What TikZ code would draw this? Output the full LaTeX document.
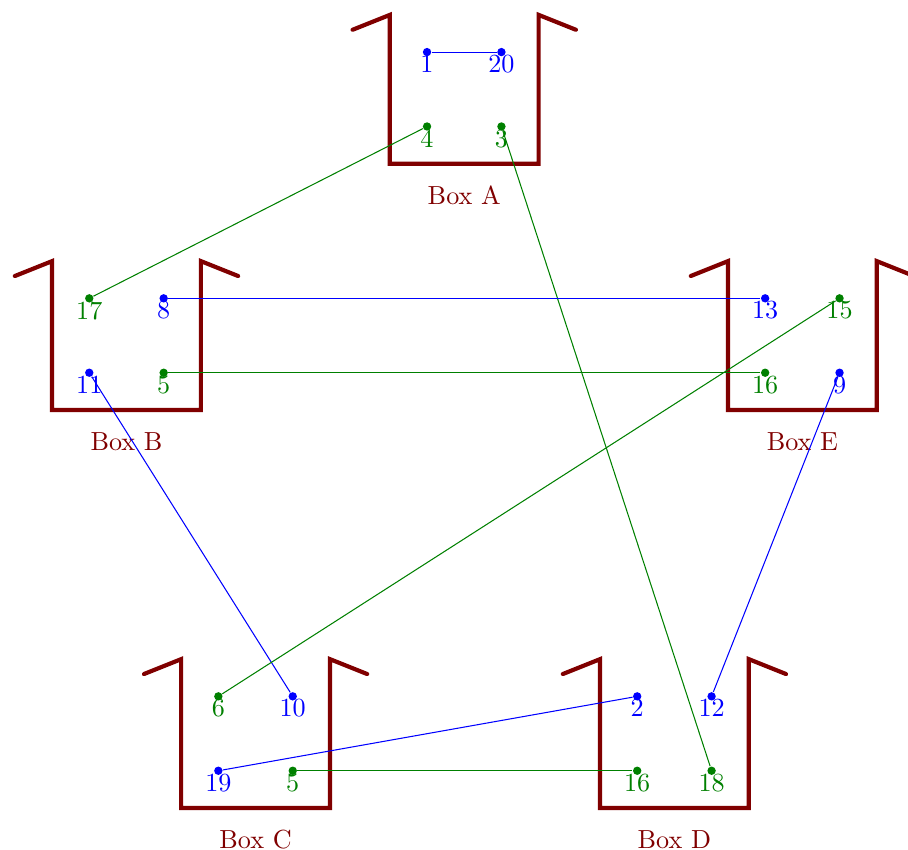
\documentclass[tikz,border=0pt]{standalone}
\usepackage{tikz}
\definecolor{cupred}{RGB}{128,0,0}
\definecolor{wiregreen}{RGB}{0,128,0}

\begin{document}
\begin{tikzpicture}[x=0.5cm, y=0.5cm,
  cupline/.style={cupred, ultra thick, line cap=round},
  bpin/.style={circle, fill=blue, inner sep=0pt, minimum size=3.2pt, label={[text=blue, below, inner sep=2.8pt]#1}},
  gpin/.style={circle, fill=wiregreen, inner sep=0pt, minimum size=3.2pt, label={[text=wiregreen, below, inner sep=2.8pt]#1}},
  bwire/.style={blue},
  gwire/.style={wiregreen}]
\path [use as bounding box] (0,0) rectangle (24.41,-22.85);
% the five cups
\foreach \b/\x/\y in {A/10.48/-0.40, B/1.40/-7.02, E/19.57/-7.02, C/4.87/-17.72, D/16.13/-17.72} {
  \draw [cupline] (\x-1,\y-0.4) -- (\x,\y) -- (\x,\y-4) -- (\x+4,\y-4) -- (\x+4,\y) -- (\x+5,\y-0.4);
  \node [cupred] (label\b) at (\x+2,\y-4.85) {Box \b};
}
% pins
\node [bpin=1] (A1) at (11.48,-1.40) {};
\node [bpin=20] (A20) at (13.48,-1.40) {};
\node [gpin=4] (A4) at (11.48,-3.40) {};
\node [gpin=3] (A3) at (13.48,-3.40) {};

\node [gpin=17] (B17) at (2.40,-8.02) {};
\node [bpin=8] (B8) at (4.40,-8.02) {};
\node [bpin=11] (B11) at (2.40,-10.02) {};
\node [gpin=5] (B5) at (4.40,-10.02) {};

\node [bpin=13] (E13) at (20.57,-8.02) {};
\node [gpin=15] (E15) at (22.57,-8.02) {};
\node [gpin=16] (E16) at (20.57,-10.02) {};
\node [bpin=9] (E9) at (22.57,-10.02) {};

\node [gpin=6] (C6) at (5.87,-18.72) {};
\node [bpin=10] (C10) at (7.87,-18.72) {};
\node [bpin=19] (C19) at (5.87,-20.72) {};
\node [gpin=5] (C5) at (7.87,-20.72) {};

\node [bpin=2] (D2) at (17.13,-18.72) {};
\node [bpin=12] (D12) at (19.13,-18.72) {};
\node [gpin=16] (D16) at (17.13,-20.72) {};
\node [gpin=18] (D18) at (19.13,-20.72) {};
% wires
\draw [bwire] (A1) -- (A20);
\draw [gwire] (A4) -- (B17);
\draw [gwire] (A3) -- (D18);
\draw [bwire] (B8) -- (E13);
\draw [gwire] (B5) -- (E16);
\draw [bwire] (B11) -- (C10);
\draw [gwire] (E15) -- (C6);
\draw [bwire] (E9) -- (D12);
\draw [bwire] (C19) -- (D2);
\draw [gwire] (C5) -- (D16);
\end{tikzpicture}
\end{document}
